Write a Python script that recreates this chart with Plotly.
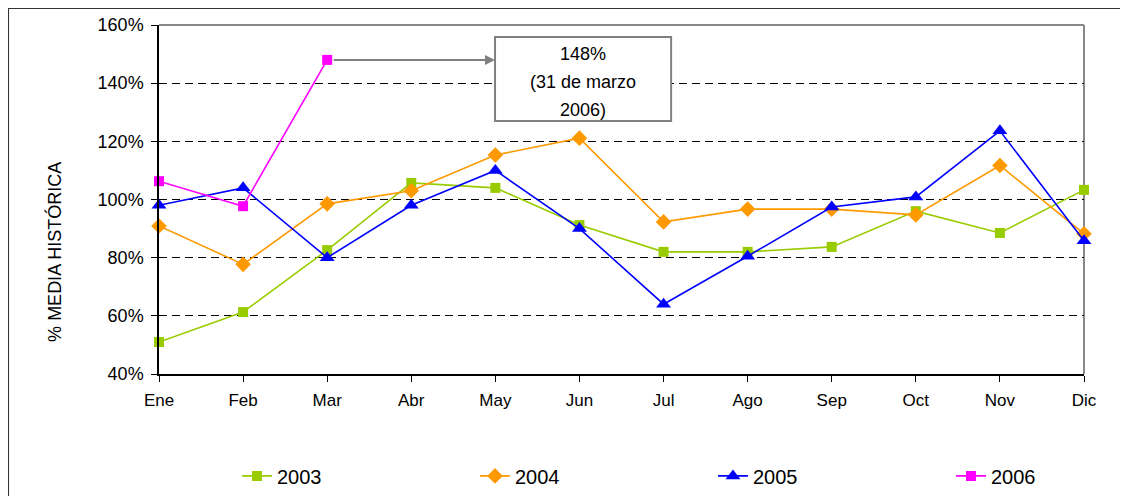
import plotly.graph_objects as go

# month labels (Spanish) and % of historical mean per year
meses = ["Ene", "Feb", "Mar", "Abr", "May", "Jun", "Jul", "Ago", "Sep", "Oct", "Nov", "Dic"]
y2003 = [51, 61.3, 82.6, 105.7, 104, 91.2, 82, 82, 83.7, 96, 88.5, 103.3]
y2004 = [90.9, 77.7, 98.5, 103, 115.3, 121.1, 92.3, 96.7, 96.7, 94.7, 111.7, 88.2]
y2005 = [98, 104, 80, 98, 110, 90, 64, 80.5, 97.4, 100.9, 123.6, 85.8]
y2006 = [106.3, 97.7, 148]

nota = ["148%", "(31 de marzo", "2006)"]

FONT = "Liberation Sans, Arial, sans-serif"

# name, values, colour, symbol, size, legend id, legend x
series = [
    ("2003", y2003, "#99CC00", "square", 10, "legend", 0.0843),
    ("2004", y2004, "#FF9900", "diamond", 12, "legend2", 0.3416),
    ("2005", y2005, "#0000FF", "triangle-up", 13, "legend3", 0.5989),
    ("2006", y2006, "#FF00FF", "square", 10, "legend4", 0.8562),
]

fig = go.Figure()
legends = {}
for name, vals, col, sym, sz, leg, lx in series:
    fig.add_trace(go.Scatter(
        x=meses[:len(vals)], y=vals, name=name, mode="lines+markers",
        line=dict(color=col, width=1.6),
        marker=dict(symbol=sym, size=sz, color=col),
        legend=leg, cliponaxis=False,
    ))
    legends[leg] = dict(orientation="h", x=lx, xanchor="left", y=-0.292, yanchor="middle",
                        font=dict(size=20), bgcolor="rgba(0,0,0,0)")

# the page body has an 8px margin, so margins are shifted by 8px
fig.update_layout(
    width=1128, height=496,
    margin=dict(l=151, r=52, t=17, b=130, autoexpand=False),
    paper_bgcolor="white", plot_bgcolor="white",
    font=dict(family=FONT, size=17, color="black"),
    showlegend=True,
    **legends,
)

fig.update_xaxes(
    type="category", range=[0, 11], showgrid=False, automargin=False,
    showline=True, linecolor="black", linewidth=1.5,
    ticks="outside", ticklen=6, tickcolor="black",
    tickfont=dict(size=17), ticklabelstandoff=4,
)
fig.update_yaxes(
    range=[40, 160], dtick=20, ticksuffix="%", automargin=False,
    showgrid=True, gridcolor="black", gridwidth=1, griddash="8px,5px",
    showline=True, linecolor="black", linewidth=1.5,
    ticks="outside", ticklen=6, tickcolor="black",
    tickfont=dict(size=18), zeroline=False, ticklabelstandoff=4,
)

# plot-area border (gray top/right), outer chart frame
fig.add_shape(type="line", xref="paper", yref="paper", x0=0, x1=1, y0=1, y1=1,
              line=dict(color="#888888", width=2), layer="below")
fig.add_shape(type="line", xref="paper", yref="paper", x0=1, x1=1, y0=0, y1=1,
              line=dict(color="#888888", width=2), layer="below")
fig.add_shape(type="rect", xref="paper", yref="paper", x0=-0.1632, x1=1.3, y0=-0.6, y1=1.0487,
              line=dict(color="#333333", width=2), layer="below")

# callout box
fig.add_shape(type="rect", xref="x", yref="y", x0=3.996, x1=6.09, y0=127, y1=155.9,
              line=dict(color="#808080", width=2), fillcolor="white", layer="above")
for txt, yy in zip(nota, [150.0, 140.4, 130.8]):
    fig.add_annotation(x=5.04, y=yy, xref="x", yref="y", text=txt, showarrow=False,
                       font=dict(size=18, color="black"))
fig.add_annotation(x=3.996, y=y2006[2], xref="x", yref="y", ax=2, ay=y2006[2],
                   axref="x", ayref="y", text="", showarrow=True, arrowhead=2,
                   arrowsize=1, arrowwidth=2, arrowcolor="#808080", startstandoff=5)

fig.add_annotation(x=-0.1124, y=0.35, xref="paper", yref="paper", text="% MEDIA HISTÓRICA",
                   xanchor="center", yanchor="middle",
                   textangle=-90, showarrow=False, font=dict(size=18, color="black"))

fig.write_html("out.html")
